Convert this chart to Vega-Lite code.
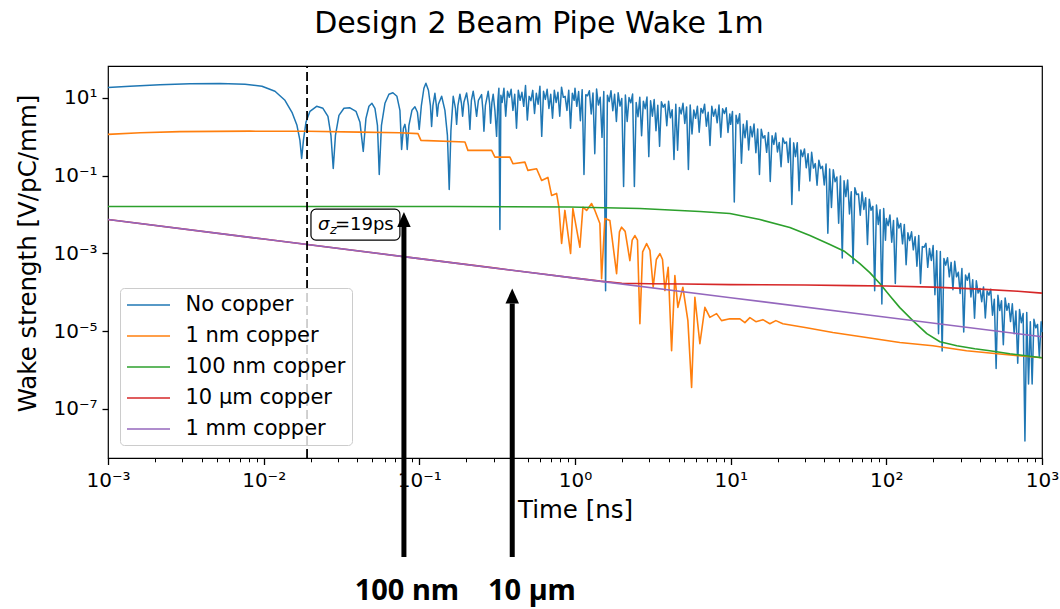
{
  "$schema": "https://vega.github.io/schema/vega-lite/v6.json",
  "width": 934,
  "height": 392,
  "autosize": {"type": "none"},
  "padding": {"left": 108, "top": 66, "right": 18, "bottom": 151},
  "background": "white",
  "title": {"text": "Design 2 Beam Pipe Wake 1m", "font": "DejaVu Sans", "fontSize": 30, "fontWeight": "normal", "color": "black", "anchor": "middle", "baseline": "alphabetic", "offset": 2, "dx": -36},
  "config": {
    "view": {"stroke": "black", "strokeWidth": 1.2},
    "font": "DejaVu Sans"
  },
  "encoding": {
    "x": {
      "field": "x", "type": "quantitative",
      "scale": {"type": "log", "domain": [0.001, 1000], "nice": false},
      "axis": {
        "values": [0.001,0.002,0.003,0.004,0.005,0.006,0.007,0.008,0.009,0.01,0.02,0.03,0.04,0.05,0.06,0.07,0.08,0.09,0.1,0.2,0.3,0.4,0.5,0.6,0.7,0.8,0.9,1,2,3,4,5,6,7,8,9,10,20,30,40,50,60,70,80,90,100,200,300,400,500,600,700,800,900,1000],
        "labelExpr": "abs(log(datum.value)/LN10 - round(log(datum.value)/LN10)) > 0.001 ? '' : ['10⁻³','10⁻²','10⁻¹','10⁰','10¹','10²','10³'][round(log(datum.value)/LN10)+3]",
        "tickSize": {"condition": {"test": "abs(log(datum.value)/LN10 - round(log(datum.value)/LN10)) < 0.001", "value": 6.5}, "value": 3.8},
        "tickWidth": {"condition": {"test": "abs(log(datum.value)/LN10 - round(log(datum.value)/LN10)) < 0.001", "value": 1.3}, "value": 1},
        "tickColor": "black", "domain": false, "grid": false,
        "labelOverlap": false, "labelFlush": false, "labelBound": false,
        "labelFont": "DejaVu Sans", "labelFontSize": 20, "labelColor": "black", "labelPadding": 6,
        "title": "Time [ns]", "titleFont": "DejaVu Sans", "titleFontSize": 24.5, "titleFontWeight": "normal", "titleColor": "black",
        "titleX": 467, "titleY": 59, "titleBaseline": "alphabetic", "titleAlign": "center", "titleAnchor": null
      }
    },
    "y": {
      "field": "y", "type": "quantitative",
      "scale": {"type": "log", "domain": [5.47e-9, 66.5], "nice": false},
      "axis": {
        "values": [1e-7, 1e-5, 0.001, 0.1, 10],
        "labelExpr": "['10⁻⁷','','10⁻⁵','','10⁻³','','10⁻¹','','10¹'][round(log(datum.value)/LN10)+7]",
        "tickSize": 6, "tickWidth": 1.3, "tickColor": "black", "domain": false, "grid": false,
        "labelOverlap": false, "labelFlush": false, "labelBound": false,
        "labelFont": "DejaVu Sans", "labelFontSize": 20, "labelColor": "black", "labelPadding": 5,
        "title": "Wake strength [V/pC/mm]", "titleFont": "DejaVu Sans", "titleFontSize": 24.5, "titleFontWeight": "normal", "titleColor": "black",
        "titleX": -73, "titleY": 187, "titleAngle": 270, "titleBaseline": "alphabetic", "titleAlign": "center", "titleAnchor": null
      }
    }
  },
  "datasets": {
    "curves": [
      {"s":"No copper","x":0.001,"y":18.5},{"s":"No copper","x":0.001384,"y":20.0},{"s":"No copper","x":0.002158,"y":21.9},{"s":"No copper","x":0.003363,"y":23.2},{"s":"No copper","x":0.005241,"y":23.5},{"s":"No copper","x":0.007587,"y":22.5},{"s":"No copper","x":0.009752,"y":20.0},{"s":"No copper","x":0.01182,"y":14.9},{"s":"No copper","x":0.0137,"y":8.73},{"s":"No copper","x":0.0152,"y":4.28},{"s":"No copper","x":0.01636,"y":1.98},{"s":"No copper","x":0.0171,"y":0.813},{"s":"No copper","x":0.01754,"y":0.279},{"s":"No copper","x":0.01801,"y":0.813},{"s":"No copper","x":0.01869,"y":2.36},{"s":"No copper","x":0.01983,"y":4.54},{"s":"No copper","x":0.02189,"y":6.11},{"s":"No copper","x":0.02403,"y":5.43},{"s":"No copper","x":0.02588,"y":3.38},{"s":"No copper","x":0.02705,"y":1.09},{"s":"No copper","x":0.02799,"y":0.154},{"s":"No copper","x":0.02891,"y":1.09},{"s":"No copper","x":0.03045,"y":3.58},{"s":"No copper","x":0.03279,"y":5.43},{"s":"No copper","x":0.03584,"y":5.59},{"s":"No copper","x":0.03917,"y":4.54},{"s":"No copper","x":0.04155,"y":2.36},{"s":"No copper","x":0.04363,"y":0.423},{"s":"No copper","x":0.0454,"y":3.0},{"s":"No copper","x":0.04746,"y":6.11},{"s":"No copper","x":0.04961,"y":7.3},{"s":"No copper","x":0.05186,"y":5.43},{"s":"No copper","x":0.05382,"y":1.98},{"s":"No copper","x":0.05527,"y":0.108},{"s":"No copper","x":0.0571,"y":1.98},{"s":"No copper","x":0.06013,"y":7.3},{"s":"No copper","x":0.06378,"y":12.5},{"s":"No copper","x":0.06766,"y":13.6},{"s":"No copper","x":0.07178,"y":11.06},{"s":"No copper","x":0.07504,"y":4.82},{"s":"No copper","x":0.07695,"y":0.476},{"s":"No copper","x":0.07903,"y":1.66},{"s":"No copper","x":0.0808,"y":2.1},{"s":"No copper","x":0.082,"y":1.47},{"s":"No copper","x":0.08361,"y":0.476},{"s":"No copper","x":0.08573,"y":1.98},{"s":"No copper","x":0.08963,"y":4.82},{"s":"No copper","x":0.09369,"y":5.93},{"s":"No copper","x":0.09723,"y":4.28},{"s":"No copper","x":0.09986,"y":1.56},{"s":"No copper","x":0.1031,"y":6.49},{"s":"No copper","x":0.107,"y":17.8},{"s":"No copper","x":0.1102,"y":23.9},{"s":"No copper","x":0.1144,"y":15.8},{"s":"No copper","x":0.1178,"y":6.49},{"s":"No copper","x":0.1199,"y":1.86},{"s":"No copper","x":0.1223,"y":6.49},{"s":"No copper","x":0.1259,"y":13.2},{"s":"No copper","x":0.1284,"y":6.88},{"s":"No copper","x":0.1303,"y":3.38},{"s":"No copper","x":0.1326,"y":6.88},{"s":"No copper","x":0.1391,"y":11.06},{"s":"No copper","x":0.146,"y":4.82},{"s":"No copper","x":0.1515,"y":1.09},{"s":"No copper","x":0.1556,"y":0.0443},{"s":"No copper","x":0.1596,"y":1.47},{"s":"No copper","x":0.1651,"y":11.06},{"s":"No copper","x":0.1706,"y":5.43},{"s":"No copper","x":0.1736,"y":2.1},{"s":"No copper","x":0.177,"y":6.49},{"s":"No copper","x":0.1823,"y":12.5},{"s":"No copper","x":0.1864,"y":7.3},{"s":"No copper","x":0.1897,"y":3.38},{"s":"No copper","x":0.1934,"y":7.75},{"s":"No copper","x":0.2013,"y":13.4},{"s":"No copper","x":0.2067,"y":6.49},{"s":"No copper","x":0.2113,"y":1.56},{"s":"No copper","x":0.216,"y":8.73},{"s":"No copper","x":0.2219,"y":14.9},{"s":"No copper","x":0.2275,"y":7.75},{"s":"No copper","x":0.2333,"y":3.38},{"s":"No copper","x":0.2396,"y":8.73},{"s":"No copper","x":0.2512,"y":12.2},{"s":"No copper","x":0.2561,"y":4.82},{"s":"No copper","x":0.26,"y":1.39},{"s":"No copper","x":0.2658,"y":6.49},{"s":"No copper","x":0.277,"y":14.9},{"s":"No copper","x":0.2828,"y":7.3},{"s":"No copper","x":0.287,"y":2.23},{"s":"No copper","x":0.2926,"y":7.75},{"s":"No copper","x":0.2982,"y":12.5},{"s":"No copper","x":0.3058,"y":4.82},{"s":"No copper","x":0.3136,"y":1.03},{"s":"No copper","x":0.3197,"y":8.73},{"s":"No copper","x":0.3244,"y":17.8},{"s":"No copper","x":0.3293,"y":0.00413},{"s":"No copper","x":0.3342,"y":11.7},
      {"s":"No copper","x":0.3403,"y":7.7},{"s":"No copper","x":0.3495,"y":17.7},{"s":"No copper","x":0.3589,"y":3.4},{"s":"No copper","x":0.3686,"y":14.8},{"s":"No copper","x":0.3785,"y":10.4},{"s":"No copper","x":0.3887,"y":16.7},{"s":"No copper","x":0.3992,"y":4.8},{"s":"No copper","x":0.41,"y":12.4},{"s":"No copper","x":0.421,"y":1.66},{"s":"No copper","x":0.4324,"y":15.7},{"s":"No copper","x":0.4441,"y":8.7},{"s":"No copper","x":0.4561,"y":14.0},{"s":"No copper","x":0.4684,"y":6.1},{"s":"No copper","x":0.481,"y":21},{"s":"No copper","x":0.494,"y":2.7},{"s":"No copper","x":0.5073,"y":11.0},{"s":"No copper","x":0.521,"y":8.5},{"s":"No copper","x":0.5351,"y":15.7},{"s":"No copper","x":0.5495,"y":4.0},{"s":"No copper","x":0.5644,"y":13.2},{"s":"No copper","x":0.5796,"y":6.9},{"s":"No copper","x":0.5952,"y":20},{"s":"No copper","x":0.6113,"y":1.03},{"s":"No copper","x":0.6278,"y":14.8},{"s":"No copper","x":0.6447,"y":9.2},{"s":"No copper","x":0.6621,"y":16.7},{"s":"No copper","x":0.68,"y":5.4},{"s":"No copper","x":0.6984,"y":12.4},{"s":"No copper","x":0.7172,"y":3.0},{"s":"No copper","x":0.7366,"y":15.7},{"s":"No copper","x":0.7565,"y":7.7},{"s":"No copper","x":0.7769,"y":14.0},{"s":"No copper","x":0.7979,"y":3.4},{"s":"No copper","x":0.8194,"y":19},{"s":"No copper","x":0.8415,"y":10.4},{"s":"No copper","x":0.8642,"y":11.0},{"s":"No copper","x":0.8876,"y":4.8},{"s":"No copper","x":0.9115,"y":15.7},{"s":"No copper","x":0.9361,"y":1.66},{"s":"No copper","x":0.9614,"y":13.2},{"s":"No copper","x":0.9874,"y":8.7},
      {"s":"No copper","x":1.0,"y":17.7},{"s":"No copper","x":1.027,"y":6.1},{"s":"No copper","x":1.055,"y":14.6},{"s":"No copper","x":1.083,"y":2.6},{"s":"No copper","x":1.112,"y":16.4},{"s":"No copper","x":1.142,"y":0.108},{"s":"No copper","x":1.173,"y":12.1},{"s":"No copper","x":1.205,"y":11.4},{"s":"No copper","x":1.237,"y":15.3},{"s":"No copper","x":1.271,"y":3.9},{"s":"No copper","x":1.305,"y":13.5},{"s":"No copper","x":1.34,"y":0.37},{"s":"No copper","x":1.376,"y":17.0},{"s":"No copper","x":1.413,"y":6.6},{"s":"No copper","x":1.452,"y":10.4},{"s":"No copper","x":1.491,"y":0.97},{"s":"No copper","x":1.531,"y":14.7},{"s":"No copper","x":1.572,"y":0.00011},{"s":"No copper","x":1.615,"y":11.8},{"s":"No copper","x":1.658,"y":8.1},{"s":"No copper","x":1.703,"y":15.4},{"s":"No copper","x":1.749,"y":4.7},{"s":"No copper","x":1.796,"y":12.5},{"s":"No copper","x":1.845,"y":2.5},{"s":"No copper","x":1.894,"y":13.6},{"s":"No copper","x":1.946,"y":6.2},{"s":"No copper","x":1.998,"y":9.7},{"s":"No copper","x":2.052,"y":0.053},{"s":"No copper","x":2.107,"y":11.9},{"s":"No copper","x":2.164,"y":2.5},{"s":"No copper","x":2.223,"y":10.3},{"s":"No copper","x":2.283,"y":7.5},{"s":"No copper","x":2.344,"y":12.6},{"s":"No copper","x":2.407,"y":0.053},{"s":"No copper","x":2.472,"y":7.6},{"s":"No copper","x":2.539,"y":3.3},{"s":"No copper","x":2.608,"y":10.4},{"s":"No copper","x":2.678,"y":1.07},{"s":"No copper","x":2.75,"y":8.3},{"s":"No copper","x":2.824,"y":5.3},{"s":"No copper","x":2.9,"y":10.6},{"s":"No copper","x":2.979,"y":0.31},{"s":"No copper","x":3.059,"y":8.5},{"s":"No copper","x":3.142,"y":3.4},{"s":"No copper","x":3.226,"y":9.1},{"s":"No copper","x":3.313,"y":1.43},{"s":"No copper","x":3.403,"y":6.5},{"s":"No copper","x":3.495,"y":0.57},{"s":"No copper","x":3.589,"y":8.0},{"s":"No copper","x":3.686,"y":5.8},{"s":"No copper","x":3.785,"y":6.9},{"s":"No copper","x":3.887,"y":1.94},{"s":"No copper","x":3.992,"y":8.2},{"s":"No copper","x":4.1,"y":3.1},{"s":"No copper","x":4.21,"y":5.0},{"s":"No copper","x":4.324,"y":0.26},{"s":"No copper","x":4.441,"y":6.9},{"s":"No copper","x":4.561,"y":0.45},{"s":"No copper","x":4.684,"y":5.7},{"s":"No copper","x":4.81,"y":3.9},{"s":"No copper","x":4.94,"y":7.3},{"s":"No copper","x":5.073,"y":2.2},{"s":"No copper","x":5.21,"y":5.9},{"s":"No copper","x":5.351,"y":0.145},{"s":"No copper","x":5.495,"y":6.6},{"s":"No copper","x":5.644,"y":1.18},{"s":"No copper","x":5.796,"y":4.9},{"s":"No copper","x":5.952,"y":3.0},{"s":"No copper","x":6.113,"y":6.1},{"s":"No copper","x":6.278,"y":1.32},{"s":"No copper","x":6.447,"y":5.4},{"s":"No copper","x":6.621,"y":4.1},{"s":"No copper","x":6.8,"y":6.9},{"s":"No copper","x":6.984,"y":1.88},{"s":"No copper","x":7.172,"y":4.3},{"s":"No copper","x":7.366,"y":0.6},{"s":"No copper","x":7.565,"y":6.1},{"s":"No copper","x":7.769,"y":3.4},{"s":"No copper","x":7.979,"y":5.1},{"s":"No copper","x":8.194,"y":2.3},{"s":"No copper","x":8.415,"y":6.6},{"s":"No copper","x":8.642,"y":0.98},{"s":"No copper","x":8.876,"y":5.3},{"s":"No copper","x":9.115,"y":4.0},{"s":"No copper","x":9.361,"y":5.6},{"s":"No copper","x":9.614,"y":1.3},{"s":"No copper","x":9.874,"y":3.9},
      {"s":"No copper","x":10.0,"y":2.1},{"s":"No copper","x":10.27,"y":4.5},{"s":"No copper","x":10.55,"y":0.021},{"s":"No copper","x":10.83,"y":3.6},{"s":"No copper","x":11.12,"y":2.2},{"s":"No copper","x":11.42,"y":3.95},{"s":"No copper","x":11.73,"y":0.21},{"s":"No copper","x":12.05,"y":2.1},{"s":"No copper","x":12.37,"y":0.95},{"s":"No copper","x":12.71,"y":2.6},{"s":"No copper","x":13.05,"y":0.46},{"s":"No copper","x":13.4,"y":1.86},{"s":"No copper","x":13.76,"y":1.0},{"s":"No copper","x":14.13,"y":2.15},{"s":"No copper","x":14.52,"y":0.39},{"s":"No copper","x":14.91,"y":1.59},{"s":"No copper","x":15.31,"y":0.108},{"s":"No copper","x":15.72,"y":1.57},{"s":"No copper","x":16.15,"y":0.93},{"s":"No copper","x":16.58,"y":1.07},{"s":"No copper","x":17.03,"y":0.4},{"s":"No copper","x":17.49,"y":1.29},{"s":"No copper","x":17.96,"y":0.071},{"s":"No copper","x":18.45,"y":1.07},{"s":"No copper","x":18.94,"y":0.64},{"s":"No copper","x":19.46,"y":1.25},{"s":"No copper","x":19.98,"y":0.41},{"s":"No copper","x":20.52,"y":0.72},{"s":"No copper","x":21.07,"y":0.17},{"s":"No copper","x":21.64,"y":0.94},{"s":"No copper","x":22.23,"y":0.68},{"s":"No copper","x":22.83,"y":0.74},{"s":"No copper","x":23.44,"y":0.22},{"s":"No copper","x":24.07,"y":0.92},{"s":"No copper","x":24.72,"y":0.0183},{"s":"No copper","x":25.39,"y":0.7},{"s":"No copper","x":26.08,"y":0.31},{"s":"No copper","x":26.78,"y":0.71},{"s":"No copper","x":27.5,"y":0.041},{"s":"No copper","x":28.24,"y":0.46},{"s":"No copper","x":29.0,"y":0.31},{"s":"No copper","x":29.79,"y":0.49},{"s":"No copper","x":30.59,"y":0.16},{"s":"No copper","x":31.42,"y":0.37},{"s":"No copper","x":32.26,"y":0.073},{"s":"No copper","x":33.13,"y":0.4},{"s":"No copper","x":34.03,"y":0.157},{"s":"No copper","x":34.95,"y":0.205},{"s":"No copper","x":35.89,"y":0.057},{"s":"No copper","x":36.86,"y":0.25},{"s":"No copper","x":37.85,"y":0.153},{"s":"No copper","x":38.87,"y":0.175},{"s":"No copper","x":39.92,"y":0.058},{"s":"No copper","x":41.0,"y":0.2},{"s":"No copper","x":42.1,"y":0.0033},{"s":"No copper","x":43.24,"y":0.149},{"s":"No copper","x":44.41,"y":0.0152},{"s":"No copper","x":45.61,"y":0.143},{"s":"No copper","x":46.84,"y":0.07},{"s":"No copper","x":48.1,"y":0.093},{"s":"No copper","x":49.4,"y":0.006},{"s":"No copper","x":50.73,"y":0.099},{"s":"No copper","x":52.1,"y":0.00077},{"s":"No copper","x":53.51,"y":0.074},{"s":"No copper","x":54.95,"y":0.029},{"s":"No copper","x":56.44,"y":0.078},{"s":"No copper","x":57.96,"y":0.0104},{"s":"No copper","x":59.52,"y":0.0386},{"s":"No copper","x":61.13,"y":0.00055},{"s":"No copper","x":62.78,"y":0.049},{"s":"No copper","x":64.47,"y":0.033},{"s":"No copper","x":66.21,"y":0.034},{"s":"No copper","x":68.0,"y":0.0096},{"s":"No copper","x":69.84,"y":0.038},{"s":"No copper","x":71.72,"y":0.0136},{"s":"No copper","x":73.66,"y":0.027},{"s":"No copper","x":75.65,"y":0.0017},{"s":"No copper","x":77.69,"y":0.025},{"s":"No copper","x":79.79,"y":0.0129},{"s":"No copper","x":81.94,"y":0.0163},{"s":"No copper","x":84.15,"y":0.00011},{"s":"No copper","x":86.42,"y":0.0176},{"s":"No copper","x":88.76,"y":0.0056},{"s":"No copper","x":91.15,"y":0.0133},{"s":"No copper","x":93.61,"y":0.00005},{"s":"No copper","x":96.14,"y":0.0144},{"s":"No copper","x":98.74,"y":0.0022},
      {"s":"No copper","x":100.0,"y":0.0079},{"s":"No copper","x":102.7,"y":0.0052},{"s":"No copper","x":105.5,"y":0.0098},{"s":"No copper","x":108.3,"y":0.00195},{"s":"No copper","x":111.2,"y":0.007},{"s":"No copper","x":114.2,"y":0.000168},{"s":"No copper","x":117.3,"y":0.0082},{"s":"No copper","x":120.5,"y":0.0045},{"s":"No copper","x":123.7,"y":0.0059},{"s":"No copper","x":127.1,"y":0.00177},{"s":"No copper","x":130.5,"y":0.0056},{"s":"No copper","x":134.0,"y":0.00051},{"s":"No copper","x":137.6,"y":0.0034},{"s":"No copper","x":141.3,"y":0.00216},{"s":"No copper","x":145.2,"y":0.0036},{"s":"No copper","x":149.1,"y":0.00124},{"s":"No copper","x":153.1,"y":0.0027},{"s":"No copper","x":157.2,"y":0.00047},{"s":"No copper","x":161.5,"y":0.0029},{"s":"No copper","x":165.8,"y":0.000168},{"s":"No copper","x":170.3,"y":0.0015},{"s":"No copper","x":174.9,"y":0.00145},{"s":"No copper","x":179.6,"y":0.00182},{"s":"No copper","x":184.5,"y":0.00044},{"s":"No copper","x":189.4,"y":0.00135},{"s":"No copper","x":194.6,"y":0.00066},{"s":"No copper","x":199.8,"y":0.0016},{"s":"No copper","x":205.2,"y":0.000087},{"s":"No copper","x":210.7,"y":0.00117},{"s":"No copper","x":216.4,"y":0.0000086},{"s":"No copper","x":222.3,"y":0.00113},{"s":"No copper","x":228.3,"y":0.0000031},{"s":"No copper","x":234.4,"y":0.00074},{"s":"No copper","x":240.7,"y":0.0005},{"s":"No copper","x":247.2,"y":0.00078},{"s":"No copper","x":253.9,"y":0.00025},{"s":"No copper","x":260.8,"y":0.00059},{"s":"No copper","x":267.8,"y":0.000117},{"s":"No copper","x":275.0,"y":0.00063},{"s":"No copper","x":282.4,"y":0.00025},{"s":"No copper","x":290.0,"y":0.00033},{"s":"No copper","x":297.9,"y":0.000094},{"s":"No copper","x":305.9,"y":0.00041},{"s":"No copper","x":314.2,"y":0.0000095},{"s":"No copper","x":322.6,"y":0.00028},{"s":"No copper","x":331.3,"y":0.000205},{"s":"No copper","x":340.3,"y":0.00031},{"s":"No copper","x":349.5,"y":0.000076},{"s":"No copper","x":358.9,"y":0.00021},{"s":"No copper","x":368.6,"y":0.0000216},{"s":"No copper","x":378.5,"y":0.000198},{"s":"No copper","x":388.7,"y":0.000096},{"s":"No copper","x":399.2,"y":0.000126},{"s":"No copper","x":410.0,"y":0.0000574},{"s":"No copper","x":421.0,"y":0.000138},{"s":"No copper","x":432.4,"y":0.0000218},{"s":"No copper","x":444.1,"y":0.000108},{"s":"No copper","x":456.1,"y":0.0000846},{"s":"No copper","x":468.4,"y":0.00012},{"s":"No copper","x":481.0,"y":0.0000258},{"s":"No copper","x":494.0,"y":0.0000666},{"s":"No copper","x":507.3,"y":0.0000011},{"s":"No copper","x":521.0,"y":0.0000844},{"s":"No copper","x":535.1,"y":0.0000341},{"s":"No copper","x":549.5,"y":0.000061},{"s":"No copper","x":564.4,"y":0.0000045},{"s":"No copper","x":579.6,"y":0.000072},{"s":"No copper","x":595.2,"y":0.0000344},{"s":"No copper","x":611.3,"y":0.0000519},{"s":"No copper","x":627.8,"y":0.0000177},{"s":"No copper","x":644.7,"y":0.0000509},{"s":"No copper","x":662.1,"y":0.0000086},{"s":"No copper","x":680.0,"y":0.000033},{"s":"No copper","x":698.4,"y":0.0000015},{"s":"No copper","x":717.2,"y":0.0000364},{"s":"No copper","x":736.6,"y":0.0000166},{"s":"No copper","x":756.5,"y":0.0000284},{"s":"No copper","x":776.9,"y":1.5e-8},{"s":"No copper","x":797.9,"y":0.0000305},{"s":"No copper","x":819.4,"y":4.4e-7},{"s":"No copper","x":841.5,"y":0.0000174},{"s":"No copper","x":864.2,"y":4.4e-7},{"s":"No copper","x":887.6,"y":0.0000202},{"s":"No copper","x":911.5,"y":0.0000122},{"s":"No copper","x":936.1,"y":0.0000149},{"s":"No copper","x":961.4,"y":0.0000021},{"s":"No copper","x":987.4,"y":0.0000175},{"s":"No copper","x":1000,"y":0.0000095},
      {"s":"1 nm copper","x":0.001,"y":1.16},{"s":"1 nm copper","x":0.00161,"y":1.27},{"s":"1 nm copper","x":0.0029,"y":1.36},{"s":"1 nm copper","x":0.00817,"y":1.40},{"s":"1 nm copper","x":0.019,"y":1.39},{"s":"1 nm copper","x":0.0414,"y":1.32},{"s":"1 nm copper","x":0.075,"y":1.27},{"s":"1 nm copper","x":0.098,"y":1.21},{"s":"1 nm copper","x":0.1024,"y":0.813},{"s":"1 nm copper","x":0.1964,"y":0.734},{"s":"1 nm copper","x":0.2052,"y":0.449},{"s":"1 nm copper","x":0.2913,"y":0.449},{"s":"1 nm copper","x":0.3058,"y":0.3015},{"s":"1 nm copper","x":0.3818,"y":0.3015},{"s":"1 nm copper","x":0.3992,"y":0.2039},{"s":"1 nm copper","x":0.4766,"y":0.224},{"s":"1 nm copper","x":0.4983,"y":0.137},{"s":"1 nm copper","x":0.5667,"y":0.1515},{"s":"1 nm copper","x":0.6103,"y":0.0757},{"s":"1 nm copper","x":0.6697,"y":0.0904},{"s":"1 nm copper","x":0.7074,"y":0.0311},{"s":"1 nm copper","x":0.7617,"y":0.035},{"s":"1 nm copper","x":0.7881,"y":0.0155},{"s":"1 nm copper","x":0.8204,"y":0.0018},{"s":"1 nm copper","x":0.861,"y":0.0128},{"s":"1 nm copper","x":0.937,"y":0.000994},{"s":"1 nm copper","x":0.969,"y":0.0144},{"s":"1 nm copper","x":1.075,"y":0.00144},{"s":"1 nm copper","x":1.124,"y":0.0155},{"s":"1 nm copper","x":1.187,"y":0.0128},{"s":"1 nm copper","x":1.278,"y":0.0193},{"s":"1 nm copper","x":1.342,"y":0.0128},{"s":"1 nm copper","x":1.445,"y":0.0059},{"s":"1 nm copper","x":1.482,"y":0.000225},{"s":"1 nm copper","x":1.556,"y":0.00793},{"s":"1 nm copper","x":1.675,"y":0.00705},{"s":"1 nm copper","x":1.85,"y":0.000303},{"s":"1 nm copper","x":1.93,"y":0.0036},{"s":"1 nm copper","x":1.992,"y":0.00474},{"s":"1 nm copper","x":2.1,"y":0.0037},{"s":"1 nm copper","x":2.252,"y":0.000656},{"s":"1 nm copper","x":2.33,"y":0.0022},{"s":"1 nm copper","x":2.425,"y":0.00289},{"s":"1 nm copper","x":2.52,"y":0.0022},{"s":"1 nm copper","x":2.611,"y":0.0000156},{"s":"1 nm copper","x":2.72,"y":0.0011},{"s":"1 nm copper","x":2.884,"y":0.0018},{"s":"1 nm copper","x":3.03,"y":0.0012},{"s":"1 nm copper","x":3.178,"y":0.000135},{"s":"1 nm copper","x":3.33,"y":0.0007},{"s":"1 nm copper","x":3.51,"y":0.000994},{"s":"1 nm copper","x":3.65,"y":0.0007},{"s":"1 nm copper","x":3.78,"y":0.000111},{"s":"1 nm copper","x":3.969,"y":0.000441},{"s":"1 nm copper","x":4.174,"y":0.00000314},{"s":"1 nm copper","x":4.381,"y":0.000269},{"s":"1 nm copper","x":4.58,"y":0.0000411},{"s":"1 nm copper","x":4.932,"y":0.000135},{"s":"1 nm copper","x":5.311,"y":0.0000187},{"s":"1 nm copper","x":5.61,"y":3.56e-7},{"s":"1 nm copper","x":5.89,"y":0.0000743},{"s":"1 nm copper","x":6.342,"y":0.00000476},{"s":"1 nm copper","x":6.828,"y":0.0000411},{"s":"1 nm copper","x":7.351,"y":0.0000227},{"s":"1 nm copper","x":8.118,"y":0.0000283},{"s":"1 nm copper","x":8.74,"y":0.0000187},{"s":"1 nm copper","x":9.883,"y":0.000021},{"s":"1 nm copper","x":11.46,"y":0.0000208},{"s":"1 nm copper","x":12.34,"y":0.0000166},{"s":"1 nm copper","x":13.29,"y":0.0000223},{"s":"1 nm copper","x":14.52,"y":0.0000176},{"s":"1 nm copper","x":16.1,"y":0.0000198},{"s":"1 nm copper","x":17.85,"y":0.0000156},{"s":"1 nm copper","x":19.51,"y":0.0000187},{"s":"1 nm copper","x":21.64,"y":0.0000156},{"s":"1 nm copper","x":30.72,"y":0.0000123},{"s":"1 nm copper","x":45.33,"y":0.0000093},{"s":"1 nm copper","x":74.6,"y":0.00000692},{"s":"1 nm copper","x":122.1,"y":0.00000514},{"s":"1 nm copper","x":198.9,"y":0.00000423},{"s":"1 nm copper","x":327.4,"y":0.00000314},{"s":"1 nm copper","x":535.8,"y":0.00000258},{"s":"1 nm copper","x":1000,"y":0.00000207},
      {"s":"100 nm copper","x":0.001,"y":0.0162},{"s":"100 nm copper","x":0.0171,"y":0.0162},{"s":"100 nm copper","x":0.1573,"y":0.0162},{"s":"100 nm copper","x":0.9274,"y":0.0157},{"s":"100 nm copper","x":2.611,"y":0.0144},{"s":"100 nm copper","x":6.342,"y":0.012},{"s":"100 nm copper","x":9.883,"y":0.01068},{"s":"100 nm copper","x":15.4,"y":0.00748},{"s":"100 nm copper","x":24.0,"y":0.00465},{"s":"100 nm copper","x":32.3,"y":0.00289},{"s":"100 nm copper","x":43.4,"y":0.0017},{"s":"100 nm copper","x":54.1,"y":0.00112},{"s":"100 nm copper","x":67.6,"y":0.000549},{"s":"100 nm copper","x":78.3,"y":0.000322},{"s":"100 nm copper","x":90.8,"y":0.000168},{"s":"100 nm copper","x":105.3,"y":0.0000822},{"s":"100 nm copper","x":122.1,"y":0.0000404},{"s":"100 nm copper","x":148.0,"y":0.0000187},{"s":"100 nm copper","x":182.0,"y":0.00000863},{"s":"100 nm copper","x":221,"y":0.00000536},{"s":"100 nm copper","x":283.7,"y":0.00000423},{"s":"100 nm copper","x":370.2,"y":0.00000354},{"s":"100 nm copper","x":462,"y":0.00000314},{"s":"100 nm copper","x":621.3,"y":0.00000263},{"s":"100 nm copper","x":1000,"y":0.00000207},
      {"s":"10 µm copper","x":0.001,"y":0.00748},{"s":"10 µm copper","x":0.01,"y":0.00235},{"s":"10 µm copper","x":0.1,"y":0.000738},{"s":"10 µm copper","x":0.3,"y":0.000425},{"s":"10 µm copper","x":0.6,"y":0.0003},{"s":"10 µm copper","x":1.0,"y":0.000232},{"s":"10 µm copper","x":1.45,"y":0.000194},{"s":"10 µm copper","x":2.0,"y":0.000172},{"s":"10 µm copper","x":3.0,"y":0.000166},{"s":"10 µm copper","x":5.0,"y":0.000164},{"s":"10 µm copper","x":10,"y":0.000158},{"s":"10 µm copper","x":30,"y":0.000155},{"s":"10 µm copper","x":60,"y":0.000149},{"s":"10 µm copper","x":100,"y":0.000145},{"s":"10 µm copper","x":200,"y":0.000136},{"s":"10 µm copper","x":400,"y":0.000121},{"s":"10 µm copper","x":700,"y":0.000107},{"s":"10 µm copper","x":1000,"y":0.0000955},
      {"s":"1 mm copper","x":0.001,"y":0.00748},{"s":"1 mm copper","x":0.01,"y":0.00235},{"s":"1 mm copper","x":0.1,"y":0.000738},{"s":"1 mm copper","x":1,"y":0.000232},{"s":"1 mm copper","x":10,"y":0.0000729},{"s":"1 mm copper","x":100,"y":0.0000229},{"s":"1 mm copper","x":1000,"y":0.0000072}
    ]
  },
  "layer": [
    {
      "data": {"name": "curves"},
      "transform": [{"filter": "datum.s === 'No copper'"}],
      "mark": {"type": "line", "strokeWidth": 1.5, "strokeJoin": "round"},
      "encoding": {
        "color": {
          "field": "s", "type": "nominal",
          "scale": {"domain": ["No copper", "1 nm copper", "100 nm copper", "10 µm copper", "1 mm copper"], "range": ["#1f77b4", "#ff7f0e", "#2ca02c", "#d62728", "#9467bd"]},
          "legend": {
            "orient": "none", "legendX": 12, "legendY": 222, "title": null,
            "symbolType": "M-2.15,0L2.15,0", "symbolSize": 400, "symbolStrokeWidth": 1.6, "symbolOffset": 11.5,
            "labelFont": "DejaVu Sans", "labelFontSize": 21, "labelColor": "black", "labelOffset": 26, "labelLimit": 400,
            "padding": 6, "rowPadding": 10,
            "fillColor": "rgba(255,255,255,0.8)", "strokeColor": "#cccccc", "cornerRadius": 4
          }
        }
      }
    },
    {
      "data": {"name": "curves"},
      "transform": [{"filter": "datum.s === '1 nm copper'"}],
      "mark": {"type": "line", "strokeWidth": 1.6, "strokeJoin": "round"},
      "encoding": {"color": {"field": "s", "type": "nominal"}}
    },
    {
      "data": {"name": "curves"},
      "transform": [{"filter": "datum.s === '100 nm copper'"}],
      "mark": {"type": "line", "strokeWidth": 1.6, "strokeJoin": "round"},
      "encoding": {"color": {"field": "s", "type": "nominal"}}
    },
    {
      "data": {"name": "curves"},
      "transform": [{"filter": "datum.s === '10 µm copper'"}],
      "mark": {"type": "line", "strokeWidth": 1.6, "strokeJoin": "round"},
      "encoding": {"color": {"field": "s", "type": "nominal"}}
    },
    {
      "data": {"name": "curves"},
      "transform": [{"filter": "datum.s === '1 mm copper'"}],
      "mark": {"type": "line", "strokeWidth": 1.6, "strokeJoin": "round"},
      "encoding": {"color": {"field": "s", "type": "nominal"}}
    },
    {
      "data": {"values": [{"x": 0.019, "y": 5.47e-9, "y2": 66.5}]},
      "mark": {"type": "rule", "color": "black", "strokeWidth": 1.8, "strokeDash": [9, 4]},
      "encoding": {"y2": {"field": "y2"}}
    },
    {
      "data": {"values": [{"x": 0.02013, "x2": 0.07504, "y": 0.01377, "y2": 0.0022}]},
      "mark": {"type": "rect", "fill": "white", "stroke": "black", "strokeWidth": 1.2, "cornerRadius": 5},
      "encoding": {"x2": {"field": "x2"}, "y2": {"field": "y2"}}
    },
    {
      "data": {"values": [{"x": 0.02232, "y": 0.00397, "t": "σ"}]},
      "mark": {"type": "text", "font": "DejaVu Sans", "fontSize": 18, "fontStyle": "italic", "align": "left", "baseline": "alphabetic", "color": "black"},
      "encoding": {"text": {"field": "t"}}
    },
    {
      "data": {"values": [{"x": 0.02666, "y": 0.00313, "t": "z"}]},
      "mark": {"type": "text", "font": "DejaVu Sans", "fontSize": 13, "fontStyle": "italic", "align": "left", "baseline": "alphabetic", "color": "black"},
      "encoding": {"text": {"field": "t"}}
    },
    {
      "data": {"values": [{"x": 0.0287, "y": 0.00397, "t": "=19ps"}]},
      "mark": {"type": "text", "font": "DejaVu Sans", "fontSize": 18, "align": "left", "baseline": "alphabetic", "color": "black"},
      "encoding": {"text": {"field": "t"}}
    },
    {
      "data": {"values": [{"x": 0.07962, "y": 1.56e-11, "y2": 0.00483}, {"x": 0.3952, "y": 1.56e-11, "y2": 0.0000518}]},
      "mark": {"type": "rule", "color": "black", "strokeWidth": 5, "strokeCap": "butt"},
      "encoding": {"y2": {"field": "y2"}}
    },
    {
      "data": {"values": [{"x": 0.07962, "y": 0.01173}, {"x": 0.3952, "y": 0.000126}]},
      "mark": {"type": "point", "shape": "M0,0L-0.9,2L0.9,2Z", "size": 225, "filled": true, "color": "black", "opacity": 1, "strokeWidth": 0}
    },
    {
      "data": {"values": [{"x": 0.08322, "y": 1.25e-12, "t": "100 nm"}, {"x": 0.5288, "y": 1.25e-12, "t": "10 µm"}]},
      "mark": {"type": "text", "font": "Noto Sans", "fontSize": 29, "fontWeight": "bold", "align": "center", "baseline": "alphabetic", "color": "black"},
      "encoding": {"text": {"field": "t"}}
    }
  ]
}
